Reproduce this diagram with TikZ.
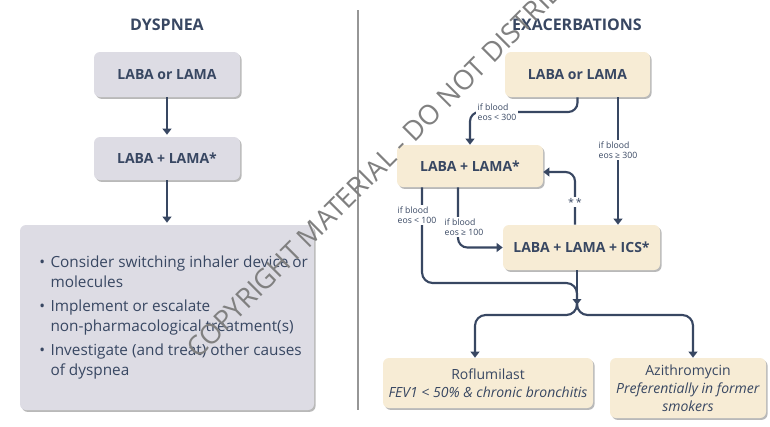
\documentclass[tikz,border=0pt]{standalone}
\usepackage{fontspec}
\setmainfont{Open Sans}
\usetikzlibrary{shadows,arrows.meta,positioning}

\definecolor{ink}{RGB}{56,71,98}
\definecolor{dysfill}{RGB}{221,220,228}
\definecolor{exafill}{RGB}{247,236,213}
\definecolor{rulegray}{RGB}{150,150,150}

\tikzset{
  box/.style={rounded corners=4.5pt, text=ink, align=center, inner sep=2pt,
    drop shadow={shadow xshift=1.2pt, shadow yshift=-1.4pt, fill=black!50, opacity=.55}},
  dysbox/.style={box, fill=dysfill},
  exabox/.style={box, fill=exafill},
  ttl/.style={text=ink, font=\bfseries\fontsize{12}{14}\selectfont},
  lbl/.style={fill=white, text=ink, align=left, inner sep=1pt,
    font=\fontsize{6.5}{7.5}\selectfont},
  link/.style={draw=ink, line width=1.6pt},
  arr/.style={link, -{Triangle[length=4.5pt,width=6.5pt]}},
}

\begin{document}
\begin{tikzpicture}[x=0.75pt,y=-0.75pt]
\useasboundingbox (0,0) rectangle (770,426);

% ===== titles and divider =====
\node[ttl] (tdys) at (167,25) {DYSPNEA};
\node[ttl] (texa) at (577,25) {EXACERBATIONS};
\draw[rulegray, line width=1pt] (358,10) -- (358,410);

% ===== dyspnea column =====
\node[dysbox, minimum width=109.5pt, minimum height=33.75pt,
  font=\bfseries\fontsize{10.5}{12}\selectfont] (d1) at (167,74.5) {LABA or LAMA};
\node[dysbox, minimum width=109.5pt, minimum height=32.25pt,
  font=\bfseries\fontsize{10.5}{12}\selectfont] (d2) at (167,158.5) {LABA + LAMA*};
\node[dysbox, minimum width=220.5pt, minimum height=138.75pt,
  font=\fontsize{11.5}{15}\selectfont] (d3) at (167,317.5) {%
  \begin{tabular}{@{\hspace{10pt}}l@{\hspace{4pt}}l@{}}
  \textbullet & Consider switching inhaler device or\\
              & molecules\\[3pt]
  \textbullet & Implement or escalate\\
              & non-pharmacological treatment(s)\\[3pt]
  \textbullet & Investigate (and treat) other causes\\
              & of dyspnea
  \end{tabular}};

\draw[arr, shorten >=1.5pt] (d1) -- (d2);
\draw[arr, shorten >=1.5pt] (d2) -- (d3);

% ===== exacerbations column =====
\node[exabox, minimum width=108.75pt, minimum height=33.75pt,
  font=\bfseries\fontsize{10.5}{12}\selectfont] (e1) at (577.5,74.5) {LABA or LAMA};
\node[exabox, minimum width=109.5pt, minimum height=31.5pt,
  font=\bfseries\fontsize{10.5}{12}\selectfont] (e2) at (470,166) {LABA + LAMA*};
\node[exabox, minimum width=117.75pt, minimum height=33.75pt,
  font=\bfseries\fontsize{10.5}{12}\selectfont] (e3) at (581.5,247.5) {LABA + LAMA + ICS*};
\node[exabox, minimum width=157.5pt, minimum height=37.5pt,
  font=\fontsize{10.5}{13.5}\selectfont] (e4) at (488,383) {Roflumilast\\ \textit{FEV1 < 50\% \& chronic bronchitis}};
\node[exabox, minimum width=117pt, minimum height=45pt,
  font=\fontsize{10.5}{13.5}\selectfont] (e5) at (688,388) {Azithromycin\\ \textit{Preferentially in former}\\ \textit{smokers}};

% columns and levels of the connectors
\coordinate (xr) at (618,0);
\coordinate (xs) at (575,0);
\coordinate (xa) at (422,0);
\coordinate (xb) at (458,0);
\coordinate (xd) at (475,0);
\coordinate (xe) at (693,0);
\coordinate (h1) at (0,112);
\coordinate (h2) at (0,283);
\coordinate (hs) at (0,315);
\coordinate (mrg) at (577,305);

% ===== connectors =====
\draw[arr, rounded corners=7pt] (e1.south) |- (e2.north |- h1) -- (e2.north);
\node[lbl] (l300) at (497,112) {if blood\\eos < 300};

\draw[arr] (e1.south -| xr) -- (e3.north -| xr);
\node[lbl] (g300) at (618,150) {if blood\\eos ≥ 300};

\draw[arr, rounded corners=7pt] (e3.north -| xs) |- ([yshift=-4.5pt]e2.east);
\node[lbl, font=\fontsize{8}{8}\selectfont] (dstar) at (575,202) {*\,*};

\draw[link, rounded corners=8pt] (e2.south -| xa) |- (mrg |- h2) -- (mrg);
\node[lbl] (l100) at (417,215) {if blood\\eos < 100};

\draw[arr, rounded corners=7pt] (e2.south -| xb) |- (e3.west);
\node[lbl] (g100) at (464,227) {if blood\\eos ≥ 100};

\draw[arr] (e3.south -| mrg) -- (mrg);
\draw[arr, rounded corners=8pt] (mrg) |- (xd |- hs) -- (e4.north -| xd);
\draw[arr, rounded corners=8pt] (mrg) |- (xe |- hs) -- (e5.north -| xe);

% ===== watermark =====
\begin{scope}
\clip (0,0) rectangle (770,426);
\node[anchor=base west, rotate=45, text=black!50, inner sep=0pt,
  font=\fontsize{20.5}{20.5}\selectfont] (wm) at (198,360) {COPYRIGHT MATERIAL - DO NOT DISTRIBUTE};
\end{scope}
\end{tikzpicture}
\end{document}
